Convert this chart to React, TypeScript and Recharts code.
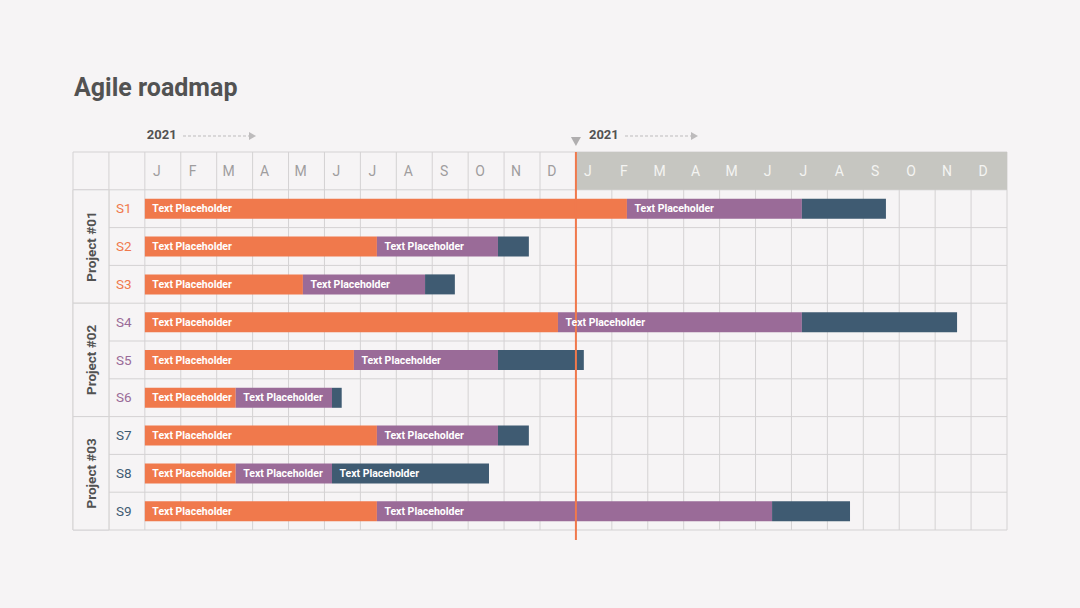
import React from 'react';
import {
  BarChart, Bar, XAxis, YAxis, CartesianGrid, ReferenceArea, ReferenceLine, LabelList,
} from 'recharts';

const monthLetters = ['J', 'F', 'M', 'A', 'M', 'J', 'J', 'A', 'S', 'O', 'N', 'D'];
const years = ['2021', '2021'];
const stages = ['S1', 'S2', 'S3', 'S4', 'S5', 'S6', 'S7', 'S8', 'S9'];
const stageProject = [0, 0, 0, 1, 1, 1, 2, 2, 2];
const projects = ['Project #01', 'Project #02', 'Project #03'];
// segment lengths in months
const orangeLen = [13.42, 6.46, 4.4, 11.5, 5.82, 2.53, 6.46, 2.53, 6.46];
const purpleLen = [4.87, 3.37, 3.4, 6.79, 4.01, 2.68, 3.37, 2.68, 11.0];
const darkLen = [2.34, 0.86, 0.83, 4.32, 2.39, 0.27, 0.86, 4.37, 2.17];
const darkLabelled = [false, false, false, false, false, false, false, true, false];
const barText = 'Text Placeholder';
const today = 12;

const BG = '#f6f4f5';
const GRID = '#d4d2d3';
const ORANGE = '#f0794c';
const PURPLE = '#9a6b98';
const DARK = '#3f5b72';
const HEAD = '#c6c6c1';
const TXT = '#525252';
const projectColors = [ORANGE, PURPLE, DARK];

const W = 1080;
const H = 608;
const LEFT = 73;
const RIGHT = 73;
const TOP = 152;
const BOTTOM = 78;
const X_MIN = -2;
const X_MAX = 24;

const allMonths = [...monthLetters, ...monthLetters];
const rows = [
  { id: 'H', o: null, p: null, d: null, oLab: '', pLab: '', dLab: '' },
  ...stages.map((s, i) => ({
    id: s, o: orangeLen[i], p: purpleLen[i], d: darkLen[i],
    oLab: barText, pLab: barText, dLab: darkLabelled[i] ? barText : '',
  })),
];

const monthTicks = allMonths.map((_, i) => i + 0.5);

const SegLabel = (props: any) => {
  const { x, y, height, value } = props;
  if (!value) return null;
  return (
    <text x={x + 7.5} y={y + height / 2} dy="0.35em" fill="#fff" fontSize={10.5} fontWeight={700}>
      {value}
    </text>
  );
};

const renderMonthTick = (props: any) => {
  const { x, payload } = props;
  const i = Math.floor(payload.value);
  return (
    <text key={i} x={x - 6} y={TOP + 24} textAnchor="middle" fontSize={14}
      fill={i >= 12 ? '#f4f4f2' : '#9f9d9e'}>
      {allMonths[i] ?? ''}
    </text>
  );
};

const renderStageTick = (props: any) => {
  const { y, payload } = props;
  const i = stages.indexOf(payload.value);
  if (i < 0) return <g key="h" />;
  return (
    <text key={payload.value} x={LEFT + 43} y={y} dy="0.35em" fontSize={13.5} fill={projectColors[stageProject[i]]}>
      {payload.value}
    </text>
  );
};

const TodayLine = (p: any) => {
  const top = Math.min(p.y1, p.y2);
  const bot = Math.max(p.y1, p.y2);
  return (
    <g>
      <line x1={p.x1} y1={top} x2={p.x2} y2={bot + 10} stroke={ORANGE} strokeWidth={2} />
      <polygon points={`${p.x1 - 5},${top - 15} ${p.x1 + 5},${top - 15} ${p.x1},${top - 6}`} fill="#b0aeaf" />
    </g>
  );
};

const Arrow = ({ left }: { left: number }) => (
  <svg style={{ position: 'absolute', left, top: 130 }} width={80} height={12}>
    <line x1={0} y1={6} x2={66} y2={6} stroke="#bdbbbc" strokeWidth={1} strokeDasharray="3 2" />
    <polygon points="66,2 73,6 66,10" fill="#bdbbbc" />
  </svg>
);

const yearOffsets = [2, 13];

export default function App() {
  const unit = (W - LEFT - RIGHT) / (X_MAX - X_MIN);
  return (
    <div style={{ position: 'absolute', left: 0, top: 0, width: W, height: H, background: BG, fontFamily: 'Roboto, sans-serif' }}>
      <div style={{ position: 'absolute', left: 74, top: 73, fontSize: 25, fontWeight: 700, color: TXT }}>
        Agile roadmap
      </div>
      {years.map((yr, k) => {
        const left = LEFT + unit * (2 + 12 * k) + yearOffsets[k];
        return (
          <React.Fragment key={k}>
            <div style={{ position: 'absolute', left, top: 127, fontSize: 13, fontWeight: 700, color: TXT }}>
              {yr}
            </div>
            <Arrow left={left + 36} />
          </React.Fragment>
        );
      })}
      <div style={{ position: 'absolute', left: 0, top: 0 }}>
        <BarChart width={W} height={H} data={rows} layout="vertical" barSize={20}
          margin={{ top: TOP - 30, right: RIGHT, bottom: BOTTOM, left: LEFT - 1 }}>
          <XAxis xAxisId="m" type="number" orientation="top" domain={[X_MIN, X_MAX]} ticks={monthTicks}
            interval={0} height={30} axisLine={false} tickLine={false} tick={renderMonthTick} />
          <YAxis yAxisId="cat" type="category" dataKey="id" width={1} axisLine={false} tickLine={false}
            tick={renderStageTick} interval={0} />
          <CartesianGrid xAxisId="m" yAxisId="cat" stroke={GRID} fill="none"
            verticalCoordinatesGenerator={({ offset }: any) => {
              const l = offset?.left ?? LEFT;
              const w = offset?.width ?? W - LEFT - RIGHT;
              const n = X_MAX - X_MIN;
              return Array.from({ length: n + 1 }, (_, k) => l + (k * w) / n);
            }}
            horizontalCoordinatesGenerator={({ offset }: any) => {
              const t = offset?.top ?? TOP;
              const h = offset?.height ?? H - TOP - BOTTOM;
              return Array.from({ length: rows.length + 1 }, (_, k) => t + (k * h) / rows.length);
            }} />
          <ReferenceArea xAxisId="m" yAxisId="cat" x1={today} x2={X_MAX} y1="H" y2="H"
            fill={HEAD} fillOpacity={1} stroke="none" />
          {projects.map((p, k) => (
            <ReferenceArea key={p} xAxisId="m" yAxisId="cat" x1={-2} x2={-1}
              y1={stages[k * 3]} y2={stages[k * 3 + 2]} fill={BG} fillOpacity={1} stroke={GRID}
              label={{ value: p, angle: -90, position: 'center', fill: TXT, fontSize: 13.5, fontWeight: 700 }} />
          ))}
          <Bar xAxisId="m" yAxisId="cat" dataKey="o" stackId="a" fill={ORANGE} isAnimationActive={false}>
            <LabelList dataKey="oLab" content={SegLabel} />
          </Bar>
          <Bar xAxisId="m" yAxisId="cat" dataKey="p" stackId="a" fill={PURPLE} isAnimationActive={false}>
            <LabelList dataKey="pLab" content={SegLabel} />
          </Bar>
          <Bar xAxisId="m" yAxisId="cat" dataKey="d" stackId="a" fill={DARK} isAnimationActive={false}>
            <LabelList dataKey="dLab" content={SegLabel} />
          </Bar>
          <ReferenceLine xAxisId="m" yAxisId="cat" x={today} ifOverflow="visible" shape={TodayLine} />
        </BarChart>
      </div>
    </div>
  );
}
